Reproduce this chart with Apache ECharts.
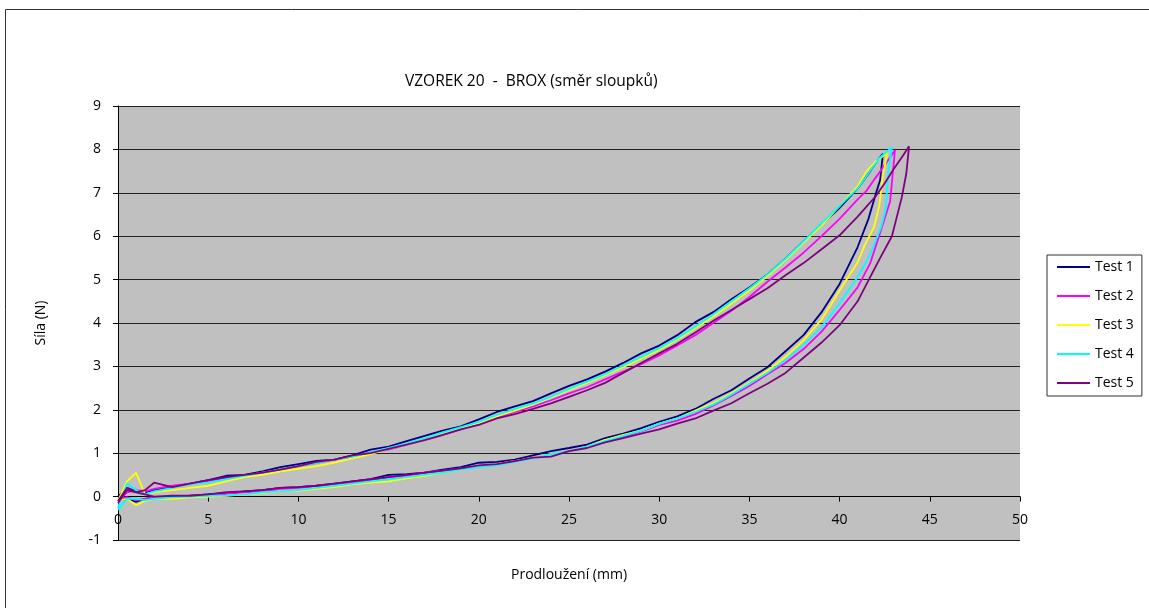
<!DOCTYPE html>
<html>
<head>
<meta charset="utf-8">
<script src="https://cdn.jsdelivr.net/npm/echarts@6/dist/echarts.min.js"></script>
<style>
  html, body { margin: 0; padding: 0; background: #fff; }
  #chart { width: 1149px; height: 608px; }
</style>
</head>
<body>
<div id="chart"></div>
<script>
// shared elongation grid (mm) for both branches
const xGrid = [0, 0.5, 1, 1.5, 2, 3, 4, 5, 6, 7, 8, 9, 10, 11, 12, 13, 14, 15, 16, 17, 18, 19, 20,
  21, 22, 23, 24, 25, 26, 27, 28, 29, 30, 31, 32, 33, 34, 35, 36, 37, 38, 39, 40];

const testNames = ['Test 1', 'Test 2', 'Test 3', 'Test 4', 'Test 5'];
const testColors = ['#000080', '#FF00FF', '#FFFF00', '#00FFFF', '#800080'];

// Test 1
const t1Up = [0, 0.2, 0.12, 0.1, 0.15, 0.22, 0.3, 0.38, 0.48, 0.5, 0.58, 0.68, 0.75, 0.82, 0.85, 0.95, 1.08, 1.15, 1.28, 1.4, 1.52, 1.62, 1.78,
  1.95, 2.08, 2.2, 2.38, 2.55, 2.7, 2.88, 3.08, 3.3, 3.48, 3.72, 4.02, 4.25, 4.55, 4.82, 5.12, 5.48, 5.88, 6.28, 6.65];
const t1Top = [[41, 7.1], [41.7, 7.5], [42.1, 7.75], [42.4, 7.9], [42.25, 7.3], [41.95, 6.9], [41.6, 6.4], [41, 5.75]];
const t1Down = [-0.1, -0.05, -0.12, -0.05, -0.02, 0, 0.02, 0.05, 0.08, 0.12, 0.15, 0.2, 0.22, 0.25, 0.3, 0.35, 0.4, 0.5, 0.52, 0.55, 0.62, 0.68, 0.78,
  0.8, 0.85, 0.95, 1.05, 1.12, 1.2, 1.35, 1.45, 1.58, 1.72, 1.85, 2.02, 2.25, 2.45, 2.72, 2.98, 3.35, 3.72, 4.25, 4.9];

// Test 2
const t2Up = [-0.1, 0.1, 0.15, 0.12, 0.18, 0.25, 0.3, 0.36, 0.42, 0.48, 0.55, 0.62, 0.7, 0.78, 0.85, 0.92, 1.02, 1.08, 1.2, 1.3, 1.42, 1.55, 1.68,
  1.82, 1.95, 2.08, 2.22, 2.38, 2.52, 2.7, 2.88, 3.05, 3.25, 3.48, 3.72, 4.0, 4.28, 4.6, 4.95, 5.28, 5.62, 6.0, 6.4];
const t2Top = [[41, 6.85], [41.5, 7.05], [42, 7.35], [42.6, 7.7], [43.07, 7.98], [42.8, 6.8], [42.3, 6.15], [41.7, 5.38], [41, 4.82]];
const t2Down = [-0.05, -0.02, -0.08, -0.05, -0.02, -0.02, 0.02, 0.03, 0.06, 0.1, 0.12, 0.18, 0.2, 0.25, 0.28, 0.32, 0.38, 0.45, 0.48, 0.55, 0.6, 0.65, 0.7,
  0.75, 0.82, 0.9, 0.98, 1.05, 1.15, 1.28, 1.38, 1.5, 1.65, 1.75, 1.9, 2.1, 2.32, 2.55, 2.82, 3.08, 3.4, 3.8, 4.3];

// Test 3
const t3Up = [-0.1, 0.35, 0.55, 0.05, 0.1, 0.15, 0.2, 0.25, 0.35, 0.45, 0.5, 0.58, 0.64, 0.7, 0.78, 0.88, 0.98, 1.1, 1.2, 1.3, 1.45, 1.58, 1.7,
  1.85, 1.98, 2.12, 2.28, 2.45, 2.62, 2.8, 2.98, 3.18, 3.38, 3.62, 3.88, 4.15, 4.45, 4.75, 5.08, 5.45, 5.85, 6.25, 6.7];
const t3Top = [[41, 7.15], [41.5, 7.5], [42, 7.72], [42.65, 7.92], [42.4, 7.4], [42.2, 6.7], [41.9, 6.2], [41.4, 5.8], [41, 5.4]];
const t3Down = [-0.1, -0.05, -0.2, -0.1, -0.05, -0.05, -0.02, 0, 0.02, 0.05, 0.08, 0.12, 0.14, 0.18, 0.22, 0.28, 0.32, 0.35, 0.42, 0.48, 0.55, 0.62, 0.7,
  0.75, 0.82, 0.9, 0.98, 1.05, 1.15, 1.3, 1.42, 1.52, 1.68, 1.8, 1.98, 2.15, 2.38, 2.62, 2.9, 3.22, 3.6, 4.08, 4.75];

// Test 4
const t4Up = [-0.25, 0.3, 0.15, 0.05, 0.12, 0.2, 0.28, 0.32, 0.4, 0.48, 0.55, 0.62, 0.7, 0.78, 0.85, 0.92, 1.02, 1.12, 1.22, 1.35, 1.48, 1.6, 1.72,
  1.88, 2.02, 2.15, 2.3, 2.48, 2.65, 2.82, 3.02, 3.22, 3.42, 3.65, 3.92, 4.2, 4.5, 4.8, 5.12, 5.48, 5.88, 6.3, 6.7];
const t4Top = [[41, 7.1], [41.6, 7.45], [42.2, 7.8], [42.9, 8.05], [42.7, 7.5], [42.55, 6.6], [42.3, 6.2], [41.6, 5.5], [41, 5.06]];
const t4Down = [-0.3, -0.05, -0.05, -0.08, -0.05, -0.02, 0, 0.02, 0.03, 0.05, 0.1, 0.12, 0.15, 0.2, 0.25, 0.3, 0.35, 0.4, 0.45, 0.5, 0.55, 0.62, 0.68,
  0.72, 0.8, 0.88, 0.98, 1.05, 1.15, 1.28, 1.4, 1.52, 1.68, 1.8, 1.95, 2.12, 2.35, 2.6, 2.85, 3.15, 3.5, 3.9, 4.45];

// Test 5
const t5Up = [-0.15, 0.15, 0.1, 0.15, 0.32, 0.22, 0.3, 0.38, 0.45, 0.5, 0.55, 0.62, 0.7, 0.8, 0.85, 0.95, 1.0, 1.1, 1.2, 1.3, 1.42, 1.55, 1.65,
  1.8, 1.9, 2.02, 2.15, 2.3, 2.45, 2.62, 2.85, 3.08, 3.3, 3.52, 3.78, 4.05, 4.3, 4.55, 4.8, 5.1, 5.38, 5.7, 6.02];
const t5Top = [[41, 6.45], [42, 6.92], [42.5, 7.22], [43, 7.55], [43.5, 7.85], [43.85, 8.07], [43.7, 7.45], [43.45, 6.9], [42.9, 6.0], [42.25, 5.5], [41.5, 4.9], [41, 4.5]];
const t5Down = [-0.1, 0.2, 0.1, 0.05, 0, 0.02, 0.02, 0.05, 0.1, 0.12, 0.15, 0.2, 0.22, 0.25, 0.3, 0.35, 0.4, 0.45, 0.5, 0.55, 0.6, 0.65, 0.72,
  0.75, 0.82, 0.9, 0.92, 1.05, 1.12, 1.25, 1.35, 1.45, 1.55, 1.68, 1.8, 1.98, 2.15, 2.38, 2.6, 2.85, 3.2, 3.55, 3.95];

const xTicks = { min: 0, max: 50, step: 5 };
const yTicks = { min: -1, max: 9, step: 1 };

function loop(up, top, down) {
  const a = xGrid.map((x, i) => [x, up[i]]);
  const b = xGrid.map((x, i) => [x, down[i]]).reverse();
  return a.concat(top, b);
}

const loops = [
  loop(t1Up, t1Top, t1Down),
  loop(t2Up, t2Top, t2Down),
  loop(t3Up, t3Top, t3Down),
  loop(t4Up, t4Top, t4Down),
  loop(t5Up, t5Top, t5Down)
];

const font = '"Open Sans", "Noto Sans", sans-serif';
// plot area: 9..-1 over 106..540, so one unit is 43.4 px
const unitPx = (540 - 106) / (yTicks.max - yTicks.min);

const chart = echarts.init(document.getElementById('chart'));
chart.setOption({
  animation: false,
  textStyle: { fontFamily: font },
  title: {
    text: 'VZOREK 20  -  BROX (směr sloupků)',
    left: 400,
    top: 69,
    textStyle: { fontFamily: font, fontSize: 15.5, fontWeight: 'normal', color: '#000' }
  },
  graphic: [{
    type: 'rect',
    shape: { x: 5.5, y: 9.5, width: 1300, height: 800 },
    style: { fill: 'none', stroke: '#333', lineWidth: 1 },
    silent: true
  }],
  legend: {
    orient: 'vertical',
    left: 1047,
    top: 255,
    width: 80,
    padding: [4, 8, 5, 10],
    icon: 'rect',
    itemWidth: 33,
    itemHeight: 2,
    itemGap: 13,
    backgroundColor: '#fff',
    borderColor: '#333',
    borderWidth: 1,
    borderRadius: 0,
    textStyle: { fontFamily: font, fontSize: 14, color: '#000', lineHeight: 16 },
    data: testNames
  },
  grid: {
    left: 118,
    right: 129,
    top: 106,
    bottom: 68,
    outerBoundsMode: 'none',
    containLabel: false,
    show: true,
    backgroundColor: '#C0C0C0',
    borderWidth: 0
  },
  xAxis: {
    type: 'value',
    min: xTicks.min,
    max: xTicks.max,
    interval: xTicks.step,
    position: 'bottom',
    offset: -unitPx,
    name: 'Prodloužení (mm)',
    nameLocation: 'middle',
    nameGap: 71,
    nameTextStyle: { fontFamily: font, fontSize: 14, color: '#000' },
    axisLine: { onZero: false, lineStyle: { color: '#000', width: 1 } },
    axisTick: { show: true, inside: false, length: 5, lineStyle: { color: '#000' } },
    axisLabel: { fontFamily: font, fontSize: 14, color: '#000', margin: 16 },
    splitLine: { show: false }
  },
  yAxis: {
    type: 'value',
    min: yTicks.min,
    max: yTicks.max,
    interval: yTicks.step,
    name: 'Síla (N)',
    nameLocation: 'middle',
    nameGap: 70,
    nameTextStyle: { fontFamily: font, fontSize: 14, color: '#000' },
    axisLine: { show: true, onZero: false, lineStyle: { color: '#000', width: 1 } },
    axisTick: { show: true, inside: false, length: 5, lineStyle: { color: '#000' } },
    axisLabel: { fontFamily: font, fontSize: 14, color: '#000', margin: 17 },
    splitLine: { show: true, lineStyle: { color: '#222', width: 1 } }
  },
  series: loops.map((d, i) => ({
    name: testNames[i],
    type: 'line',
    data: d,
    symbol: 'none',
    smooth: false,
    color: testColors[i],
    lineStyle: { width: 1.8, color: testColors[i] }
  }))
});
</script>
</body>
</html>
